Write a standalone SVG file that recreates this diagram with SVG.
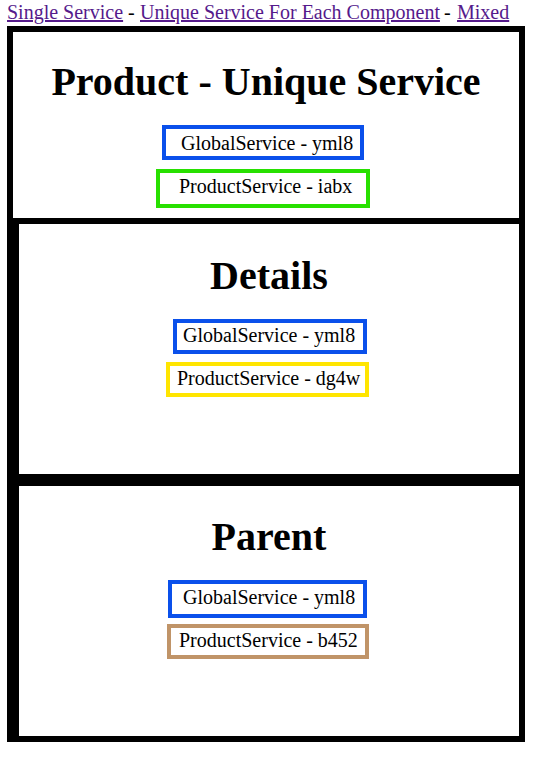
<svg xmlns="http://www.w3.org/2000/svg" width="545" height="762" viewBox="0 0 545 762">
<style>
text{font-family:"Liberation Serif","Times New Roman",serif;fill:#000}
.link{font-size:20px;fill:#551a8b;text-decoration:underline}
.sep{font-size:20px}
.h1{font-size:40px;font-weight:bold;text-anchor:middle}
.svc{font-size:20px}
.box{fill:#fff;stroke-width:4}
.blue{stroke:#0a50eb}
.green{stroke:#28e000}
.yellow{stroke:#ffe500}
.brown{stroke:#c09468}
.bk{fill:#000}
</style>
<rect width="545" height="762" fill="#fff"/>
<g id="nav">
<text class="link" x="7" y="19">Single Service</text>
<text class="sep" x="123" y="19" xml:space="preserve"> - </text>
<text class="link" x="140" y="19">Unique Service For Each Component</text>
<text class="sep" x="439" y="19" xml:space="preserve"> - </text>
<text class="link" x="457" y="19">Mixed</text>
</g>
<g id="frames">
<rect x="10" y="29" width="512" height="710" fill="none" stroke="#000" stroke-width="6"/>
<rect class="bk" x="13" y="218" width="506" height="6"/>
<rect class="bk" x="13" y="218" width="6" height="518"/>
<rect class="bk" x="13" y="474" width="506" height="12"/>
</g>
<g id="product">
<text class="h1" x="266" y="95">Product - Unique Service</text>
<g id="product-global">
<rect class="box blue" x="164" y="127" width="198" height="31"/>
<text class="svc" x="181" y="150">GlobalService - yml8</text>
</g>
<g id="product-service">
<rect class="box green" x="158" y="171" width="210" height="35"/>
<text class="svc" x="179" y="193">ProductService - iabx</text>
</g>
</g>
<g id="details">
<text class="h1" x="269" y="289">Details</text>
<g id="details-global">
<rect class="box blue" x="175" y="321" width="190" height="31"/>
<text class="svc" x="183" y="342">GlobalService - yml8</text>
</g>
<g id="details-service">
<rect class="box yellow" x="168" y="364" width="199" height="31"/>
<text class="svc" x="177" y="385">ProductService - dg4w</text>
</g>
</g>
<g id="parent">
<text class="h1" x="269" y="550">Parent</text>
<g id="parent-global">
<rect class="box blue" x="170" y="582" width="195" height="34"/>
<text class="svc" x="183" y="604">GlobalService - yml8</text>
</g>
<g id="parent-service">
<rect class="box brown" x="169" y="626" width="198" height="31"/>
<text class="svc" x="179" y="647">ProductService - b452</text>
</g>
</g>
<g id="connectors"></g>
</svg>
